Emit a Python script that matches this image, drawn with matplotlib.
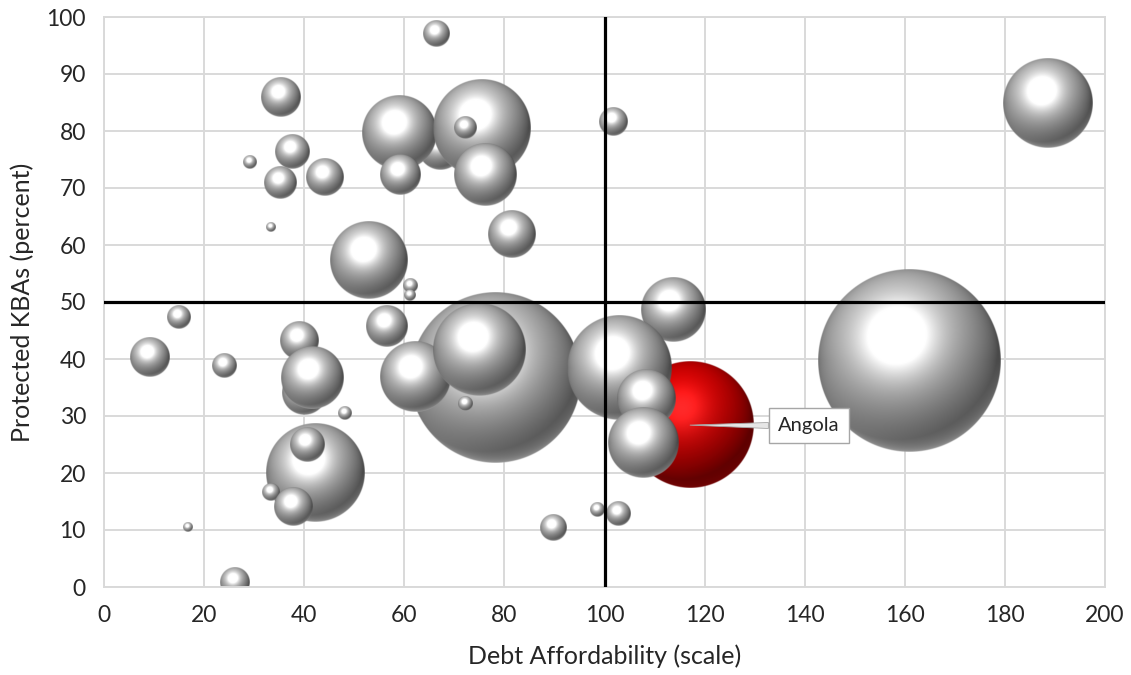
import numpy as np
import matplotlib.pyplot as plt

plt.rcParams['font.family'] = ['Lato', 'DejaVu Sans']

# debt affordability score, share of key biodiversity areas protected, bubble size
afford = [67.1, 40.0, 39.0, 41.5, 42.2, 40.5, 33.2, 37.8, 48.0, 16.8, 26.0, 9.0, 14.8, 24.0,
          35.4, 37.5, 35.2, 29.0, 44.2, 33.4, 66.3, 59.0, 59.1, 75.5, 72.1, 76.1, 81.5, 52.8,
          61.1, 61.1, 78.1, 56.5, 62.1, 74.9, 72.1, 89.7, 98.5, 102.7, 101.7, 113.7, 117.1,
          103.0, 108.3, 107.7, 160.8, 188.6]
kba = [77.0, 34.0, 43.2, 36.7, 20.0, 24.9, 16.5, 14.0, 30.5, 10.5, 0.8, 40.2, 47.2, 38.8,
       86.0, 76.3, 70.9, 74.4, 71.9, 63.2, 97.1, 79.6, 72.3, 80.5, 80.5, 72.3, 61.8, 57.4,
       52.8, 51.2, 36.7, 45.8, 36.8, 41.6, 32.1, 10.3, 13.5, 12.8, 81.6, 48.6, 28.4,
       38.4, 33.0, 25.3, 39.6, 84.9]
size = [5.84, 5.84, 4.36, 11.6, 29.0, 3.49, 0.87, 4.36, 0.51, 0.30, 2.54, 4.59, 1.60, 1.74,
        4.69, 3.49, 3.09, 0.51, 4.22, 0.30, 2.04, 16.5, 4.83, 28.6, 1.46, 11.6, 6.67, 18.0,
        0.59, 0.43, 87.2, 5.17, 14.8, 25.6, 0.59, 2.04, 0.59, 1.74, 2.37, 12.4, 47.9,
        32.7, 10.2, 14.8, 100.0, 23.9]
names = [''] * len(afford)
names[40] = 'Angola'

x_ticks = np.arange(0, 201, 20)
y_ticks = np.arange(0, 101, 10)
x_ref, y_ref = 100, 50


def sphere(r_px, red=False):
    n = int(4 * r_px) + 8
    t = np.linspace(-1, 1, n)
    u, v = np.meshgrid(t, t)
    d2 = u ** 2 + v ** 2
    nz = np.sqrt(np.clip(1 - d2, 0, 1))
    L = np.array([-0.25, 0.5, 0.83])
    L /= np.linalg.norm(L)
    H = L + np.array([0, 0, 1.0])
    H /= np.linalg.norm(H)
    diff = np.clip(u * L[0] + v * L[1] + nz * L[2], 0, 1)
    nh = np.clip(u * H[0] + v * H[1] + nz * H[2], 0, 1)
    spec = 0.4 * nh ** 16 + 0.18 * nh ** 5
    rim = 0.35 * np.clip(-v, 0, 1) * (1 - nz) ** 1.5
    img = np.zeros((n, n, 4))
    if red:
        img[..., 0] = 0.36 + 0.48 * diff + 0.45 * spec + 0.3 * rim
        img[..., 1] = 0.28 * spec + 0.06 * rim
        img[..., 2] = 0.28 * spec + 0.06 * rim
    else:
        g = 0.29 + 0.45 * diff + rim + spec
        img[..., 0] = g
        img[..., 1] = g
        img[..., 2] = g
    img[..., :3] = np.clip(img[..., :3], 0, 1)
    img[..., 3] = np.clip((1 - np.sqrt(d2)) * r_px + 0.5, 0, 1)
    return img


fig = plt.figure(figsize=(11.31, 6.75), dpi=100)
ax = fig.add_axes([104 / 1131, 88 / 675, 1001 / 1131, 570 / 675])
ax.set_xlim(0, 200)
ax.set_ylim(0, 100)

# pixels per data unit, so every bubble comes out round
p0 = ax.transData.transform((0, 0))
p1 = ax.transData.transform((1, 1))
sx, sy = p1 - p0
max_r = 0.16 * (sy * 100)

for i, (x, y, s) in enumerate(zip(afford, kba, size)):
    r = max_r * np.sqrt(s / max(size))
    hx, hy = r / sx, r / sy
    ax.imshow(sphere(r, red=(names[i] == 'Angola')), origin='lower',
              extent=(x - hx, x + hx, y - hy, y + hy), aspect='auto',
              interpolation='antialiased', zorder=2 + i * 0.01)

ax.set_xlim(0, 200)
ax.set_ylim(0, 100)
ax.set_xticks(x_ticks)
ax.set_yticks(y_ticks)
ax.set_axisbelow(True)
ax.grid(True, color='#D9D9D9', lw=1.4)
for sp in ax.spines.values():
    sp.set_color('#D9D9D9')
    sp.set_linewidth(1.4)
ax.tick_params(length=0, labelsize=16.5, colors='#262626')
ax.tick_params(axis='x', pad=13)
ax.tick_params(axis='y', pad=13)

ax.axvline(x_ref, color='black', lw=2.3, zorder=5)
ax.axhline(y_ref, color='black', lw=2.3, zorder=5)

for i, nm in enumerate(names):
    if nm:
        ax.annotate(nm, xy=(afford[i], kba[i]), xytext=(140.8, 28.3),
                    ha='center', va='center', fontsize=14.5, color='#262626', zorder=6,
                    bbox=dict(boxstyle='square,pad=0.45', fc='white', ec='#A6A6A6', lw=1),
                    arrowprops=dict(arrowstyle='wedge,tail_width=0.3', fc='#E6E6E6',
                                    ec='#A6A6A6', lw=0.6, shrinkA=0, shrinkB=0))

ax.set_xlabel('Debt Affordability (scale)', fontsize=18, color='#262626', labelpad=13)
ax.set_ylabel('Protected KBAs (percent)', fontsize=18, color='#262626', labelpad=9)

fig.savefig('out.png', dpi=100)
